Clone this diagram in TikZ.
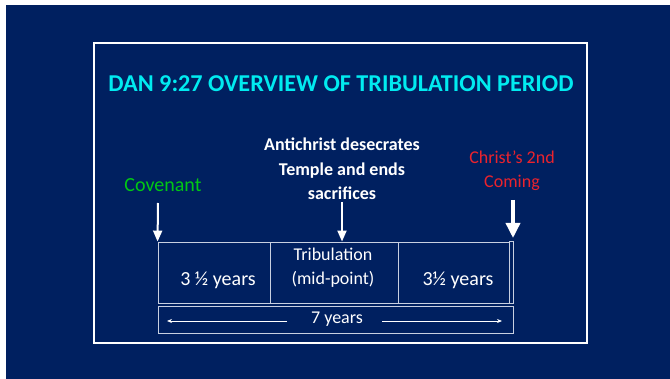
\documentclass[tikz,border=0pt]{standalone}
\usepackage{fontspec}
\setmainfont{Carlito}
\usetikzlibrary{arrows.meta}
\definecolor{bgblue}{RGB}{0,32,96}
\definecolor{titlecyan}{RGB}{0,235,240}
\definecolor{covgreen}{RGB}{0,200,20}
\definecolor{christred}{RGB}{235,35,45}
\definecolor{cellline}{RGB}{200,208,225}
\begin{document}
\begin{tikzpicture}[x=1pt,y=-1pt,
  cellbox/.style={draw=cellline,line width=0.9pt,minimum height=61pt,inner sep=0pt},
  celltext/.style={text=white,font=\fontsize{20}{22}\selectfont,inner sep=0pt},
  downarr/.style={draw=white,line width=2pt,-{Triangle[width=9pt,length=11pt]}},
  bigarr/.style={draw=white,line width=3.5pt,-{Triangle[width=14pt,length=15pt]}},
  spanarr/.style={draw=white,line width=0.8pt,-{Stealth[width=4pt,length=5pt]}}]
\useasboundingbox (0,0) rectangle (670,379);
\fill[white] (0,0) rectangle (670,379);
\fill[bgblue] (6,5) rectangle (670,379);
\draw[white,line width=1.3pt] (94,43) rectangle (587,343);
\node[text=titlecyan,font=\bfseries\fontsize{24.2}{28}\selectfont,inner sep=0pt] (title) at (341,83.5) {DAN 9:27 OVERVIEW OF TRIBULATION PERIOD};
% cells
\node[cellbox,minimum width=112pt] (c1) at (214,272.5) {};
\node[cellbox,minimum width=128pt] (c2) at (334,272.5) {};
\node[cellbox,minimum width=111pt] (c3) at (453.5,272.5) {};
\draw[cellline,line width=0.9pt] (c3.north east) -- ++(3.5,0) coordinate (rtop) -- (c3.south east -| rtop) coordinate (rbot) -- (c3.south east);
\node[draw=cellline,line width=0.9pt,minimum width=355pt,minimum height=27pt,inner sep=0pt] (row2) at (335.5,319.5) {};
\node[celltext] (t1) at (218,280) {3 ½ years};
\node[text=white,font=\fontsize{18}{24}\selectfont,align=center,inner sep=0pt] (t2) at (333,268) {Tribulation\\(mid-point)};
\node[celltext] (t3) at (458,280) {3½ years};
\node[text=white,font=\fontsize{18}{20}\selectfont,inner sep=0pt] (seven) at (337,319) {7 years};
\coordinate (la) at (287,321);
\coordinate (lb) at (167,321);
\coordinate (ra) at (382,321);
\coordinate (rb) at (502,321);
\draw[spanarr] (la) -- (lb);
\draw[spanarr] (ra) -- (rb);
% labels
\node[text=covgreen,font=\fontsize{20}{24}\selectfont,inner sep=0pt] (cov) at (163,185) {Covenant};
\node[text=white,font=\bfseries\fontsize{18}{24.5}\selectfont,align=center,inner sep=0pt] (anti) at (342,169) {Antichrist desecrates\\Temple and ends\\sacrifices};
\node[text=christred,font=\fontsize{18}{24}\selectfont,align=center,inner sep=0pt] (christ) at (512,171) {Christ’s 2nd\\Coming};
% arrows
\coordinate (covtop) at (158,203);
\coordinate (antitop) at (342,202);
\coordinate (christtop) at (513,200);
\draw[downarr] (covtop) -- (c1.north west);
\draw[downarr] (antitop) -- (antitop |- c2.north);
\draw[bigarr] (christtop) -- ++(0,38);
\end{tikzpicture}
\end{document}
